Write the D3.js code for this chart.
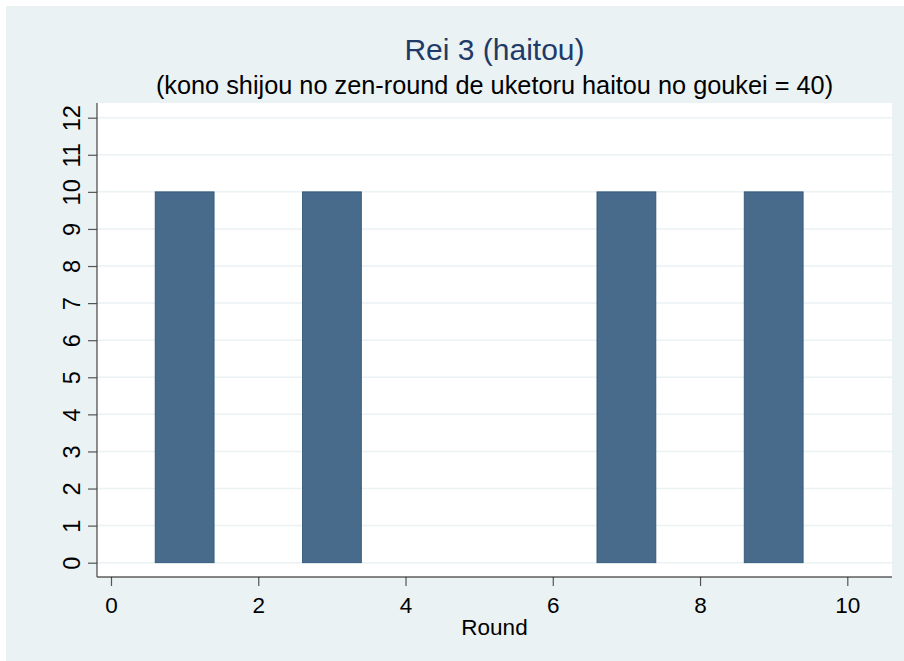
<!DOCTYPE html>
<html>
<head>
<meta charset="utf-8">
<script src="https://cdn.jsdelivr.net/npm/d3@7"></script>
<style>
  body { margin: 0; background: #fff; }
  text { font-family: "Liberation Sans", Arial, sans-serif; }
</style>
</head>
<body>
<svg id="chart" width="904" height="661"></svg>
<script>
// data
const rounds = [1, 2, 3, 4, 5, 6, 7, 8, 9, 10];
const haitou = [10, 0, 10, 0, 0, 0, 10, 0, 10, 0];
const xTicks = [0, 2, 4, 6, 8, 10];
const yTicks = [0, 1, 2, 3, 4, 5, 6, 7, 8, 9, 10, 11, 12];
const titleText = "Rei 3 (haitou)";
const subtitleText = "(kono shijou no zen-round de uketoru haitou no goukei = 40)";
const xTitle = "Round";

const svg = d3.select("#chart");

// plot region
const plotLeft = 97, plotRight = 892, plotTop = 103, plotBottom = 577;

// background
svg.append("rect")
    .attr("x", 6).attr("y", 6)
    .attr("width", 898).attr("height", 655)
    .attr("fill", "#eaf2f3");

svg.append("rect")
    .attr("x", plotLeft).attr("y", plotTop)
    .attr("width", plotRight - plotLeft).attr("height", plotBottom - plotTop)
    .attr("fill", "#ffffff");

const x = d3.scaleLinear().domain([0, 10]).range([111, 847.3]);
const y = d3.scaleLinear().domain([0, 12]).range([562.7, 117.7]);

// grid lines
svg.append("g").selectAll("line")
    .data(yTicks)
    .enter().append("line")
    .attr("x1", plotLeft).attr("x2", plotRight)
    .attr("y1", d => y(d)).attr("y2", d => y(d))
    .attr("stroke", "#eaf2f3")
    .attr("stroke-width", 1.5);

// bars
const data = rounds.map((r, i) => ({round: r, value: haitou[i]}));
const barW = x(0.8) - x(0);
svg.append("g").selectAll("rect")
    .data(data.filter(d => d.value > 0))
    .enter().append("rect")
    .attr("x", d => x(d.round) - barW / 2)
    .attr("y", d => y(d.value))
    .attr("width", barW)
    .attr("height", d => y(0) - y(d.value))
    .attr("fill", "#486b8c")
    .attr("stroke", "#2a5276")
    .attr("stroke-width", 0.8);

// x axis
const gx = svg.append("g")
    .attr("transform", "translate(0," + plotBottom + ")")
    .call(d3.axisBottom(x).tickValues(xTicks).tickSize(9).tickPadding(6).tickSizeOuter(0));
gx.select(".domain").remove();
gx.append("line")
    .attr("x1", plotLeft).attr("x2", plotRight)
    .attr("y1", 0).attr("y2", 0)
    .attr("stroke", "#111").attr("stroke-width", 1.2);
gx.selectAll(".tick line").attr("stroke", "#555").attr("stroke-width", 1.2);
gx.selectAll(".tick text")
    .attr("font-size", "22.5px")
    .attr("fill", "#000")
    .attr("dy", null)
    .attr("y", 35.5);

// y axis
const gy = svg.append("g")
    .attr("transform", "translate(" + plotLeft + ",0)")
    .call(d3.axisLeft(y).tickValues(yTicks).tickSize(9).tickSizeOuter(0));
gy.select(".domain").remove();
gy.append("line")
    .attr("x1", 0).attr("x2", 0)
    .attr("y1", plotTop).attr("y2", plotBottom)
    .attr("stroke", "#444").attr("stroke-width", 1.2);
gy.selectAll(".tick line").attr("stroke", "#555").attr("stroke-width", 1.2);
gy.selectAll(".tick text")
    .attr("font-size", "23.5px")
    .attr("fill", "#000")
    .attr("x", null).attr("dy", null)
    .attr("text-anchor", "middle")
    .attr("transform", "translate(-17.5,0) rotate(-90)");

// titles
const cx = (plotLeft + plotRight) / 2;
svg.append("text")
    .attr("x", cx).attr("y", 60)
    .attr("text-anchor", "middle")
    .attr("font-size", "30px")
    .attr("fill", "#1f3a68")
    .text(titleText);

svg.append("text")
    .attr("x", cx).attr("y", 94)
    .attr("text-anchor", "middle")
    .attr("font-size", "25.3px")
    .attr("fill", "#000")
    .text(subtitleText);

svg.append("text")
    .attr("x", cx).attr("y", 635)
    .attr("text-anchor", "middle")
    .attr("font-size", "22.5px")
    .attr("fill", "#000")
    .text(xTitle);
</script>
</body>
</html>
